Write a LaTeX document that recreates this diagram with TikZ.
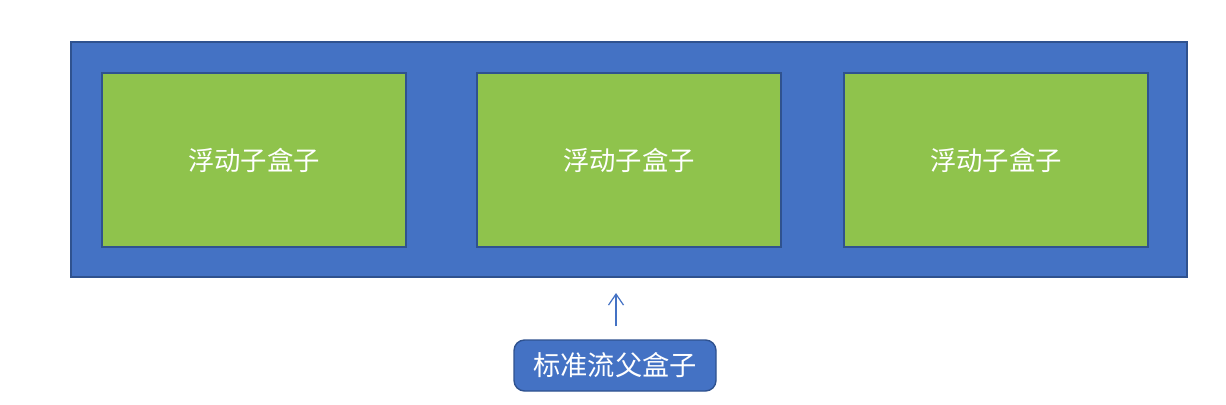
\documentclass[tikz,border=0pt]{standalone}
\usepackage{fontspec}
\newfontfamily\cjk{Noto Sans CJK SC}
\definecolor{boxblue}{RGB}{68,114,196}
\definecolor{edgeblue}{RGB}{47,82,143}
\definecolor{boxgreen}{RGB}{143,195,76}
\usetikzlibrary{positioning,arrows.meta}
\tikzset{
  parentbox/.style = {rectangle, draw=edgeblue, fill=boxblue, line width=0.8pt,
                      minimum width=22.32cm, minimum height=4.7cm},
  floatbox/.style  = {rectangle, draw=edgeblue, fill=boxgreen, line width=0.8pt,
                      minimum width=6.08cm, minimum height=3.48cm,
                      text=white, font=\cjk\fontsize{15}{18}\selectfont},
  tag/.style       = {rectangle, draw=edgeblue, fill=boxblue, rounded corners=6pt,
                      line width=0.8pt, minimum width=4.04cm, minimum height=1.02cm,
                      text=white, font=\cjk\fontsize{15.5}{18}\selectfont},
  arr/.style       = {-{Straight Barb[length=2.2mm,width=3mm]}, draw=boxblue, line width=0.7pt}
}
\begin{document}
\begin{tikzpicture}
\useasboundingbox (0,0) rectangle (24.52,8.08);

% --- Eltern- und Kindboxen ----------------------------------------
\node[parentbox] (parent) at (12.58,4.89) {};
\node[floatbox]  (float1) at (5.08,4.88)  {浮动子盒子};
\node[floatbox]  (float2) at (12.58,4.88) {浮动子盒子};
\node[floatbox]  (float3) at (19.92,4.88) {浮动子盒子};

% --- Beschriftung -------------------------------------------------
\node[tag] (label) at (12.30,0.77) {标准流父盒子};
\coordinate (tip) at (12.32,2.22);
\draw[arr] (label.north -| tip) ++(0,0.26) -- (tip);
\end{tikzpicture}
\end{document}
